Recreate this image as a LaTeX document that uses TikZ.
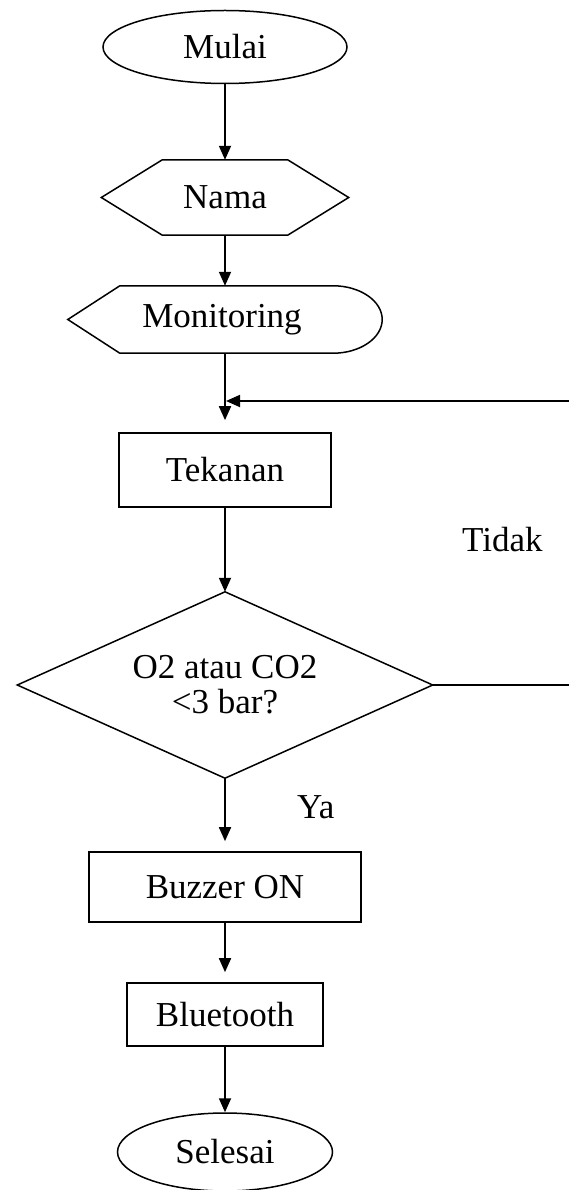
\documentclass[tikz,border=0pt]{standalone}
\usepackage{fontspec}
\setmainfont{Liberation Serif}
\usetikzlibrary{shapes.geometric,arrows.meta}
\begin{document}
\begin{tikzpicture}[x=1pt,y=-1pt,
  every node/.style={font=\fontsize{35}{35}\selectfont, inner sep=0pt},
  arr/.style={line width=1.8pt, -{Triangle[length=14pt,width=12pt]}},
  term/.style={ellipse, draw, line width=1.5pt},
  proc/.style={rectangle, draw, line width=1.7pt},
  frame/.style={rectangle, draw=none},
  outline/.style={line width=1.5pt}
]
\useasboundingbox (0,0) rectangle (569,1190);

\node[term, minimum width=244pt, minimum height=73pt] (mulai) at (225,47) {Mulai};
\node[frame, minimum width=247pt, minimum height=75pt] (nama) at (225,197.5) {Nama};
\node[frame, minimum width=314pt, minimum height=67pt] (mon) at (225,319.5) {\hspace*{-6pt}Monitoring};
\node[proc, minimum width=212pt, minimum height=74pt] (tek) at (225,470) {Tekanan};
\node[frame, minimum width=415pt, minimum height=186pt, align=center] (dec) at (225,685) {O2 atau CO2\\{<}3 bar?};
\node[proc, minimum width=272pt, minimum height=70pt] (buz) at (225,887) {Buzzer ON};
\node[proc, minimum width=196pt, minimum height=63pt] (blu) at (225,1014.5) {Bluetooth};
\node[term, minimum width=215pt, minimum height=78pt] (sel) at (225,1152) {Selesai};

\node[anchor=base west] (tidak) at (462,551) {Tidak};
\node[anchor=base west] (ya) at (297,818) {Ya};

% shapes drawn from node anchors
\draw[outline] (nama.west) -- ([xshift=61pt]nama.north west) -- ([xshift=-61pt]nama.north east)
  -- (nama.east) -- ([xshift=-61pt]nama.south east) -- ([xshift=61pt]nama.south west) -- cycle;
\draw[outline] (mon.west) -- ([xshift=52pt]mon.north west) -- ([xshift=-49pt]mon.north east)
  .. controls ([xshift=-22pt]mon.north east) and ([yshift=18.5pt]mon.east) .. (mon.east)
  .. controls ([yshift=-18.5pt]mon.east) and ([xshift=-22pt]mon.south east) .. ([xshift=-49pt]mon.south east)
  -- ([xshift=52pt]mon.south west) -- cycle;
\draw[outline] (dec.north) -- (dec.east) -- (dec.south) -- (dec.west) -- cycle;

% connectors
\coordinate (join) at (226,401);
\draw[arr] (mulai) -- (nama.north);
\draw[arr] (nama.south) -- (mon.north);
\draw[arr, shorten >=12pt] (mon.south) -- (tek.north);
\draw[arr] (tek.south) -- (dec.north);
\draw[arr, shorten >=10pt] (dec.south) -- (buz.north);
\draw[arr, shorten >=10pt] (buz.south) -- (blu.north);
\draw[arr] (blu.south) -- (sel.north);
\draw[arr] (dec.east) -- ++(145,0) |- (join);
\end{tikzpicture}
\end{document}
